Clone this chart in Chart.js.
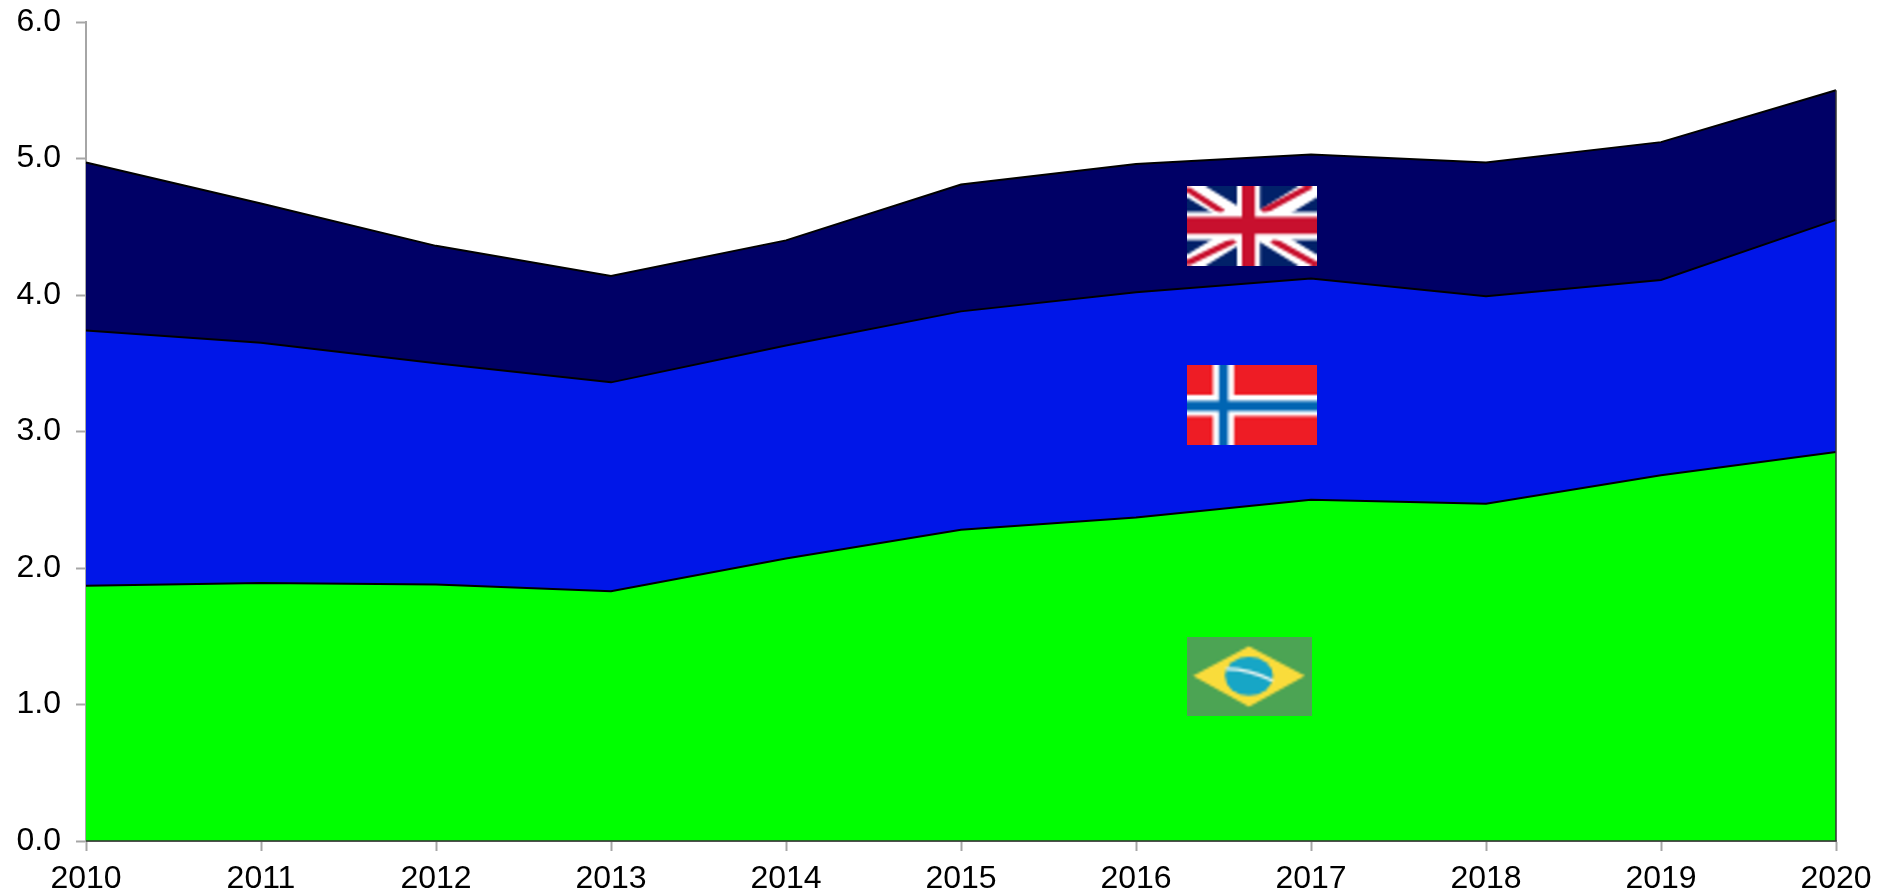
<!DOCTYPE html>
<html>
<head>
<meta charset="utf-8">
<title>Stacked area chart</title>
<script src="https://cdn.jsdelivr.net/npm/chart.js@4"></script>
<style>
  html, body { margin: 0; background: #fff; }
  canvas { display: block; }
</style>
</head>
<body>
<canvas id="areaChart" width="1885" height="895"></canvas>
<script>
// Data
const years = ['2010', '2011', '2012', '2013', '2014', '2015', '2016', '2017', '2018', '2019', '2020'];
const brazil = [1.87, 1.89, 1.88, 1.83, 2.07, 2.28, 2.37, 2.50, 2.47, 2.68, 2.85];
const norway = [1.87, 1.76, 1.62, 1.53, 1.56, 1.60, 1.65, 1.62, 1.52, 1.43, 1.70];
const uk = [1.23, 1.02, 0.86, 0.78, 0.77, 0.93, 0.94, 0.91, 0.98, 1.01, 0.95];
const yTicks = ['0.0', '1.0', '2.0', '3.0', '4.0', '5.0', '6.0'];

// Colors
const axisGray = '#a6a6a6';
const textColor = '#000';

// Flag painters, origin at the top left of the flag
function paintUk(c, w, h) {
  c.fillStyle = '#012169';
  c.fillRect(0, 0, w, h);
  c.strokeStyle = '#fff';
  c.lineWidth = 19;
  c.beginPath();
  c.moveTo(0, 0); c.lineTo(w, h);
  c.moveTo(w, 0); c.lineTo(0, h);
  c.stroke();
  // thin red diagonals, shifted off centre
  c.strokeStyle = '#c8102e';
  c.lineWidth = 6;
  c.beginPath();
  c.moveTo(0, 3); c.lineTo(36, 26);
  c.moveTo(124, 0); c.lineTo(75, 26);
  c.moveTo(0, 77); c.lineTo(48, 54);
  c.moveTo(130, 79); c.lineTo(85, 54);
  c.stroke();
  c.fillStyle = '#fff';
  c.fillRect(50, 0, 23, h);
  c.fillRect(0, 26, w, 28);
  c.fillStyle = '#c8102e';
  c.fillRect(55, 0, 13, h);
  c.fillRect(0, 31, w, 17);
}

function paintNorway(c, w, h) {
  c.fillStyle = '#ee1c25';
  c.fillRect(0, 0, w, h);
  c.fillStyle = '#fff';
  c.fillRect(26, 0, 21, h);
  c.fillRect(0, 30, w, 21);
  c.fillStyle = '#0065b3';
  c.fillRect(32, 0, 9, h);
  c.fillRect(0, 36, w, 10);
}

function paintBrazil(c, w, h) {
  c.fillStyle = '#4ca454';
  c.fillRect(0, 0, w, h);
  c.fillStyle = '#f9dc3b';
  c.beginPath();
  c.moveTo(6, 39); c.lineTo(62, 9); c.lineTo(118, 39); c.lineTo(62, 70);
  c.closePath();
  c.fill();
  c.fillStyle = '#17a6c6';
  c.beginPath();
  c.ellipse(62, 39, 24, 19.5, 0, 0, Math.PI * 2);
  c.fill();
  c.strokeStyle = '#e6f3ef';
  c.lineWidth = 3;
  c.beginPath();
  c.moveTo(39, 32);
  c.quadraticCurveTo(62, 32, 86, 44);
  c.stroke();
}

// Flags sit in the bands, anchored on the scales (x as category index, y as axis value)
const flags = [
  { paint: paintUk, xIndex: 6.291, yValue: 4.212, w: 130, h: 80 },
  { paint: paintNorway, xIndex: 6.291, yValue: 2.901, w: 130, h: 80 },
  { paint: paintBrazil, xIndex: 6.291, yValue: 0.916, w: 125, h: 79 }
];

// Painted small and scaled up, the flags in the reference are soft little bitmaps
const flagScale = 0.4;

const flagPlugin = {
  id: 'flags',
  afterDraw(chart) {
    const c = chart.ctx;
    flags.forEach(f => {
      const x = Math.round(chart.scales.x.getPixelForValue(f.xIndex));
      const y = Math.round(chart.scales.y.getPixelForValue(f.yValue)) - f.h;
      const small = document.createElement('canvas');
      small.width = Math.round(f.w * flagScale);
      small.height = Math.round(f.h * flagScale);
      const sc = small.getContext('2d');
      sc.scale(small.width / f.w, small.height / f.h);
      f.paint(sc, f.w, f.h);
      c.save();
      c.imageSmoothingEnabled = true;
      c.imageSmoothingQuality = 'high';
      c.drawImage(small, x, y, f.w, f.h);
      c.restore();
    });
  }
};

// The reference outlines the areas down the right side and along the base
const outlinePlugin = {
  id: 'outline',
  afterDatasetsDraw(chart) {
    const c = chart.ctx;
    const { x, y } = chart.scales;
    const last = years.length - 1;
    const top = y.getPixelForValue(brazil[last] + norway[last] + uk[last]);
    c.save();
    c.strokeStyle = '#333';
    c.lineWidth = 1.5;
    c.beginPath();
    c.moveTo(x.getPixelForValue(0), y.bottom);
    c.lineTo(x.right, y.bottom);
    c.lineTo(x.right, top);
    c.stroke();
    c.restore();
  }
};

const tickFont = { family: '"Liberation Sans", Arial, sans-serif', size: 32 };

// Fixed axis sizes, and no extra room reserved for overhanging labels
function fixXAxis(scale) {
  scale.height = 54;
  scale.paddingLeft = 0;
  scale.paddingRight = 0;
}
function fixYAxis(scale) {
  scale.width = 86;
  scale.paddingTop = 0;
  scale.paddingBottom = 0;
}

new Chart(document.getElementById('areaChart'), {
  type: 'line',
  data: {
    labels: years,
    datasets: [
      { label: 'Brazil', data: brazil, backgroundColor: '#00ff00', fill: 'origin' },
      { label: 'Norway', data: norway, backgroundColor: '#0016e8', fill: '-1' },
      { label: 'UK', data: uk, backgroundColor: '#000066', fill: '-1' }
    ]
  },
  options: {
    responsive: false,
    animation: false,
    layout: { padding: { top: 22, right: 49, left: 0, bottom: 0 } },
    elements: {
      point: { radius: 0 },
      line: { borderColor: '#000', borderWidth: 2, tension: 0 }
    },
    plugins: { legend: { display: false }, tooltip: { enabled: false } },
    scales: {
      x: {
        offset: false,
        stacked: true,
        afterFit: fixXAxis,
        border: { color: axisGray, width: 2 },
        grid: { drawOnChartArea: false, tickColor: axisGray, tickLength: 10, tickWidth: 2 },
        ticks: { color: textColor, font: tickFont, padding: 9, autoSkip: false, maxRotation: 0 }
      },
      y: {
        stacked: true,
        min: 0,
        max: 6,
        afterFit: fixYAxis,
        border: { color: axisGray, width: 2 },
        grid: { drawOnChartArea: false, tickColor: axisGray, tickLength: 10, tickWidth: 2 },
        ticks: {
          color: textColor,
          font: tickFont,
          padding: 15,
          stepSize: 1,
          callback: (v, i) => yTicks[i]
        }
      }
    }
  },
  plugins: [outlinePlugin, flagPlugin]
});
</script>
</body>
</html>
